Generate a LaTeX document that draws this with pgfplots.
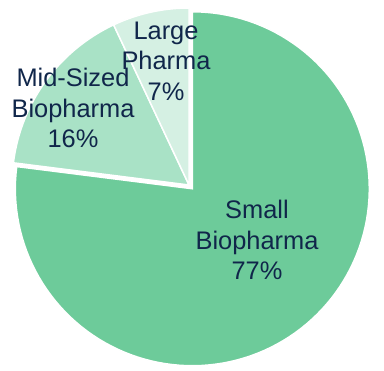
\documentclass[border=0pt]{standalone}
\usepackage{pgfplots}
\usepackage{pgfplotstable}
\pgfplotsset{compat=1.18}
\usepackage{fontspec}
\setmainfont{Liberation Sans}
\definecolor{cSmall}{HTML}{6DCB9A}
\definecolor{cMid}{HTML}{A9E2C6}
\definecolor{cLarge}{HTML}{D5F0E3}
\definecolor{txt}{HTML}{10264A}
\pgfplotstableread{
label value
Small 77
Mid 16
Large 7
}\piedata
\pgfplotstablegetelem{0}{value}\of\piedata \let\vS\pgfplotsretval
\pgfplotstablegetelem{1}{value}\of\piedata \let\vM\pgfplotsretval
\pgfplotstablegetelem{2}{value}\of\piedata \let\vL\pgfplotsretval
\pgfmathsetmacro\aA{90}
\pgfmathsetmacro\aB{90-3.6*\vS}
\pgfmathsetmacro\aC{\aB-3.6*\vM}
\pgfmathsetmacro\aD{\aC-3.6*\vL}
\pgfmathsetmacro\aMid{(\aA+\aB)/2}
\def\R{177}
\def\cx{189}
\def\cy{186}
\pgfmathsetmacro\sx{\cx+5*cos(\aMid)}
\pgfmathsetmacro\sy{\cy+5*sin(\aMid)}
\begin{document}
\begin{tikzpicture}
\begin{axis}[
  x=1bp, y=1bp,
  xmin=0, xmax=384, ymin=0, ymax=371,
  hide axis, clip=false,
  scale only axis,
]
\path[use as bounding box] (axis cs:0,0) rectangle (axis cs:384,371);
\addplot[fill=cSmall, draw=white, line width=1.5pt, domain=\aB:\aA, samples=120, variable=\t]
  ({\sx+\R*cos(\t)},{\sy+\R*sin(\t)}) -- (axis cs:\sx,\sy) -- cycle;
\addplot[fill=cMid, draw=white, line width=1.5pt, domain=\aC:\aB, samples=40, variable=\t]
  ({\cx+\R*cos(\t)},{\cy+\R*sin(\t)}) -- (axis cs:\cx,\cy) -- cycle;
\addplot[fill=cLarge, draw=white, line width=1.5pt, domain=\aD:\aC, samples=20, variable=\t]
  ({\cx+\R*cos(\t)},{\cy+\R*sin(\t)}) -- (axis cs:\cx,\cy) -- cycle;
\begin{scope}[every node/.style={align=center, inner sep=0pt, text=txt, font=\fontsize{25.5}{30.5}\selectfont}]
\node at (axis cs:257,131) {Small\\Biopharma\\\vS\%};
\node at (axis cs:73,263) {Mid-Sized\\Biopharma\\\vM\%};
\node at (axis cs:166,310) {Large\\Pharma\\\vL\%};
\end{scope}
\end{axis}
\end{tikzpicture}
\end{document}
